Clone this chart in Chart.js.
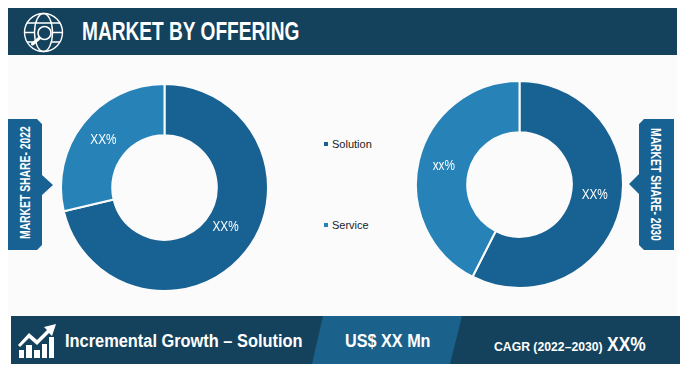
<!DOCTYPE html>
<html>
<head>
<meta charset="utf-8">
<script src="https://cdn.jsdelivr.net/npm/chart.js@4/dist/chart.umd.min.js"></script>
<style>
  html, body { margin: 0; padding: 0; background: #fff; }
  #page { position: relative; width: 689px; height: 373px; overflow: hidden; font-family: "Liberation Sans", sans-serif; }
  #page > * { position: absolute; }
  .panel { left: 8px; top: 55px; width: 669px; height: 261px; background: #fbfbfb; }
  .head { left: 8px; top: 8px; width: 669px; height: 47px; background: #14425c; }
  .foot { left: 11px; top: 316px; width: 669px; height: 48px; background: #14425c; }
  .txt { color: #fff; white-space: nowrap; font-weight: bold; line-height: 1; transform-origin: 0 0; }
  .legend { font-size: 11px; color: #222; line-height: 1; white-space: nowrap; }
  .legend i { display: inline-block; width: 4px; height: 4px; margin-right: 4px; vertical-align: 2px; }
</style>
</head>
<body>
<div id="page">
  <div class="panel"></div>
  <div class="head"></div>
  <div class="foot"></div>

  <svg style="left:0;top:0" width="689" height="373">
    <polygon points="323,316 462,316 450,364 312,364" fill="#1a628c"/>
    <polygon points="8,119 37,119 42,124 42,175 53,185 42,195 42,245 37,250 8,250" fill="#186293"/>
    <polygon points="644,119 674,119 674,250 644,250 639,245 639,194 629,184 639,174 639,124" fill="#186293"/>
    <!-- globe icon -->
    <g fill="none" stroke="#fff" stroke-width="1.4">
      <circle cx="43.5" cy="32.5" r="19"/>
      <ellipse cx="43.5" cy="32.5" rx="9" ry="19"/>
      <path d="M27 23 H60 M25 32.5 H34 M53 32.5 H62 M27 42 H34 M52 42 H60"/>
      <circle cx="44.5" cy="33" r="6.5" fill="#14425c" stroke-width="1.6"/>
    </g>
    <path d="M39.5 38 L32.5 44" stroke="#fff" stroke-width="3" stroke-linecap="round"/>
    <!-- growth icon -->
    <g fill="#fff">
      <rect x="19" y="350" width="5" height="8"/>
      <rect x="26" y="345" width="6" height="13"/>
      <rect x="34" y="350" width="6" height="8"/>
      <rect x="42" y="344" width="5" height="14"/>
      <rect x="49" y="337" width="5" height="21"/>
      <polygon points="56,324 44,327 47,330 37,340 29,333 18,345 20,347 29,338 37,345 49,333 52,336"/>
    </g>
  </svg>

  <div style="left:60px;top:83px;width:209px;height:209px"><canvas id="donut2022" width="209" height="209"></canvas></div>
  <div style="left:415px;top:80px;width:209px;height:209px"><canvas id="donut2030" width="209" height="209"></canvas></div>

  <div class="txt" style="left:82px;top:18px;font-size:26px;transform:scaleX(.735)">MARKET BY OFFERING</div>
  <div class="txt" style="left:65px;top:332px;font-size:18px;transform:scaleX(.91)">Incremental Growth – Solution</div>
  <div class="txt" style="left:345px;top:332px;font-size:18px;transform:scaleX(.9)">US$ XX Mn</div>
  <div class="txt" style="left:494px;top:340px;font-size:13px;transform:scaleX(.94)">CAGR (2022–2030)</div>
  <div class="txt" style="left:607px;top:333px;font-size:21px;transform:scaleX(.83)">XX%</div>
  <div class="txt" style="left:18px;top:239px;font-size:14px;transform:rotate(-90deg) scaleX(.74)">MARKET SHARE- 2022</div>
  <div class="txt" style="left:663px;top:128px;font-size:14px;transform:rotate(90deg) scaleX(.74)">MARKET SHARE- 2030</div>

  <div class="legend" id="leg0" style="left:324px;top:139px"></div>
  <div class="legend" id="leg1" style="left:324px;top:220px"></div>
</div>

<script>
const categories = ['Solution', 'Service']
const share2022 = [71.3, 28.7]
const share2030 = [57.5, 42.5]
const labels2022 = ['XX%', 'XX%']
const labels2030 = ['XX%', 'xx%']
const colors = ['#186293', '#2682b7']

// slice labels sit a bit off the arc centre in the original
const shift2022 = [[0, -9], [0, 1]]
const shift2030 = [[-0.5, -8], [0, 0]]

const sliceLabels = {
  id: 'sliceLabels',
  afterDatasetsDraw(chart, args, opts) {
    const ctx = chart.ctx
    chart.getDatasetMeta(0).data.forEach((arc, i) => {
      const p = arc.getCenterPoint()
      ctx.save()
      ctx.translate(p.x + opts.shift[i][0], p.y + opts.shift[i][1])
      ctx.scale(0.84, 1)
      ctx.font = '14px "Liberation Sans", sans-serif'
      ctx.fillStyle = '#fff'
      ctx.textAlign = 'center'
      ctx.textBaseline = 'middle'
      ctx.fillText(opts.text[i], 0, 0)
      ctx.restore()
    })
  }
}

function donut(id, values, text, shift) {
  new Chart(document.getElementById(id), {
    type: 'doughnut',
    data: {
      labels: categories,
      datasets: [{ data: values, backgroundColor: colors, borderColor: '#fbfbfb', borderWidth: 2 }]
    },
    options: {
      responsive: false,
      animation: false,
      cutout: '50.5%',
      plugins: {
        legend: { display: false },
        tooltip: { enabled: false },
        sliceLabels: { text, shift }
      }
    },
    plugins: [sliceLabels]
  })
}

donut('donut2022', share2022, labels2022, shift2022)
donut('donut2030', share2030, labels2030, shift2030)

categories.forEach((name, i) => {
  document.getElementById('leg' + i).innerHTML = '<i style="background:' + colors[i] + '"></i>' + name
})
</script>
</body>
</html>
